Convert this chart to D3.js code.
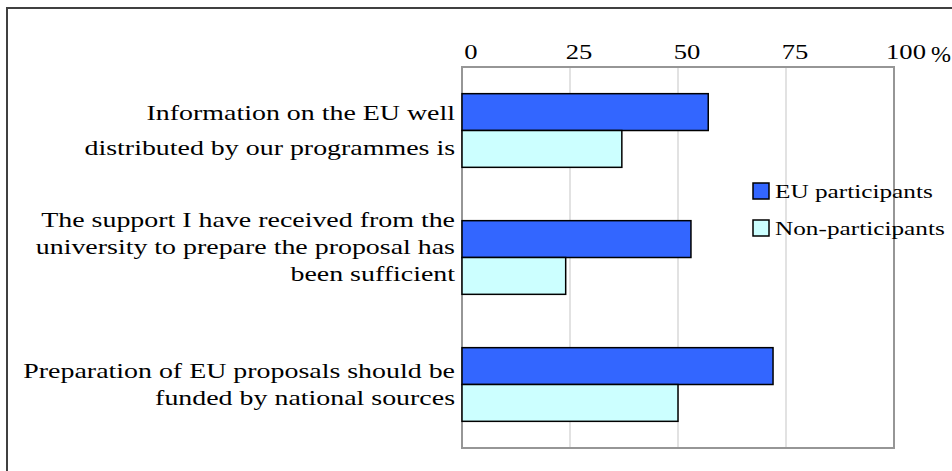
<!DOCTYPE html>
<html>
<head>
<meta charset="utf-8">
<script src="https://cdn.jsdelivr.net/npm/d3@7/dist/d3.min.js"></script>
<style>
  html, body { margin: 0; padding: 0; background: #fff; }
  svg { display: block; }
  text { font-family: "Liberation Serif", "Times New Roman", serif; fill: #000; }
</style>
</head>
<body>
<svg id="chart" width="952" height="471"></svg>
<script>
// Survey statements (each label split into its display lines)
const categories = [
  ["Information on the EU well", "distributed by our programmes is"],
  ["The support I have received  from the", "university to prepare the proposal has", "been sufficient"],
  ["Preparation of EU proposals should be", "funded by national sources"]
];
const seriesNames = ["EU participants", "Non-participants"];
const euParticipants = [57, 53, 72];
const nonParticipants = [37, 24, 50];
const tickValues = [0, 25, 50, 75, 100];
const unitLabel = "%";

const colors = ["#3366FF", "#CCFFFF"];
const stretch = 1.33;   // horizontal stretch of the text glyphs

const svg = d3.select("#chart");
const plot = { left: 462, right: 894, top: 67, bottom: 448 };

// outer frame (runs off the right and bottom edges)
svg.append("rect")
  .attr("x", 7).attr("y", 8)
  .attr("width", 1000).attr("height", 1000)
  .attr("fill", "none").attr("stroke", "#404040").attr("stroke-width", 2);

const x = d3.scaleLinear().domain([0, 100]).range([plot.left, plot.right]);
const y = d3.scaleBand().domain(d3.range(categories.length))
  .range([plot.top, plot.bottom]).paddingInner(0.42).paddingOuter(0.21);
const ySub = d3.scaleBand().domain(d3.range(seriesNames.length)).range([0, y.bandwidth()]);

// gridlines
svg.append("g").selectAll("line")
  .data(tickValues.slice(1, -1)).join("line")
  .attr("x1", d => x(d)).attr("x2", d => x(d))
  .attr("y1", plot.top).attr("y2", plot.bottom)
  .attr("stroke", "#d9d9d9").attr("stroke-width", 1.5);

// plot area border
svg.append("rect")
  .attr("x", plot.left).attr("y", plot.top)
  .attr("width", plot.right - plot.left).attr("height", plot.bottom - plot.top)
  .attr("fill", "none").attr("stroke", "#969696").attr("stroke-width", 2);

// stretched text helper
function sText(g, tx, ty, str, anchor, size, sx = stretch) {
  return g.append("text")
    .attr("transform", `translate(${tx},${ty}) scale(${sx},1)`)
    .attr("text-anchor", anchor)
    .attr("font-size", size)
    .text(str);
}

// top axis labels
const axisG = svg.append("g");
tickValues.forEach(v => sText(axisG, x(v) + (v === 100 ? 12 : 9), 59, String(v), "middle", 20));
sText(axisG, 931, 62, unitLabel, "start", 24, 1.0);

// bars
const data = [euParticipants, nonParticipants];
const barsG = svg.append("g");
data.forEach((vals, s) => {
  barsG.selectAll(null).data(vals).join("rect")
    .attr("x", x(0))
    .attr("y", (d, i) => y(i) + ySub(s))
    .attr("width", d => x(d) - x(0))
    .attr("height", ySub.bandwidth())
    .attr("fill", colors[s])
    .attr("stroke", "#000").attr("stroke-width", 1.5);
});

// category labels
const lineH = [35, 27, 27];
const labelShift = [0, -11, 0];
const labG = svg.append("g");
categories.forEach((lines, i) => {
  const cy = y(i) + y.bandwidth() / 2 + labelShift[i];
  const y0 = cy - (lines.length - 1) * lineH[i] / 2;
  lines.forEach((ln, k) => sText(labG, 455, y0 + k * lineH[i] + 7, ln, "end", 21));
});

// legend
const legG = svg.append("g");
seriesNames.forEach((name, s) => {
  const ly = 183 + s * 37;
  legG.append("rect")
    .attr("x", 753).attr("y", ly).attr("width", 16).attr("height", 16)
    .attr("fill", colors[s]).attr("stroke", "#000").attr("stroke-width", 1.5);
  sText(legG, 775, ly + 15, name, "start", 19);
});
</script>
</body>
</html>
